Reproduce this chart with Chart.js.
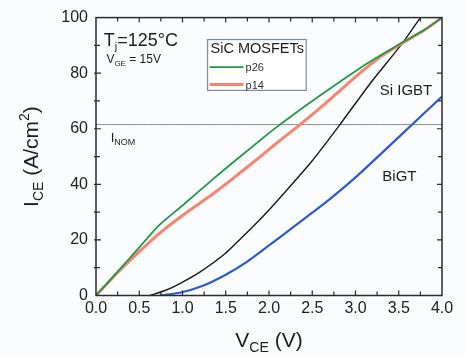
<!DOCTYPE html>
<html><head><meta charset="utf-8">
<style>html,body{margin:0;padding:0;background:#fbfcfe;}#wrap{width:466px;height:355px;}</style>
<script src="https://cdn.jsdelivr.net/npm/chart.js@4.4.1/dist/chart.umd.min.js"></script>
</head><body><div id="wrap"><canvas id="c" width="466" height="355"></canvas></div>
<script>
// ---- data ----
const V_P26 = [0, 0.25, 0.5, 0.73, 1.0, 1.35, 1.6, 1.9, 2.08, 2.5, 3.05, 3.3, 3.55, 3.8, 4.0];
const I_P26 = [0, 8.6, 17.3, 25.3, 32.4, 41.8, 48.3, 55.9, 60.4, 70.0, 81.8, 86.6, 91.2, 95.6, 100];
const V_P14 = [0, 0.25, 0.5, 0.73, 1.0, 1.35, 1.6, 1.9, 2.08, 2.36, 2.67, 3.05, 3.3, 3.55, 3.8, 4.0];
const I_P14 = [0, 8.3, 15.8, 22.3, 28.8, 36.5, 42.5, 50.0, 54.6, 61.5, 69.6, 80.0, 86.2, 91.0, 95.6, 100];
const V_IGBT = [0.62, 0.8, 0.97, 1.2, 1.49, 1.74, 2.0, 2.25, 2.5, 2.82, 3.17, 3.55, 3.75];
const I_IGBT = [0, 1.8, 4.3, 8.4, 15, 22.5, 30.8, 39.5, 48.5, 61.5, 76.3, 91.1, 100];
const V_BIGT = [0.74, 0.97, 1.22, 1.5, 1.74, 2.0, 2.25, 2.5, 2.7, 3.0, 3.5, 4.0];
const I_BIGT = [0, 1.0, 3.3, 7.5, 12.0, 18.0, 23.9, 29.8, 34.6, 42.5, 57, 71.6];
const I_NOM = 61.5;
const X_RANGE = [0, 4];
const Y_RANGE = [0, 100];
const X_STEP = 0.5, X_MINOR = 0.25;
const Y_STEP = 20, Y_MINOR = 10;

const FAM = '"Liberation Sans", Arial, Helvetica, sans-serif';
const pts = (xs, ys) => xs.map((x, i) => ({x, y: ys[i]}));

function rich(ctx, parts, x, y, align, rot) {
  ctx.save();
  ctx.translate(x, y);
  if (rot) ctx.rotate(rot);
  let w = 0;
  parts.forEach(p => { ctx.font = p[1] + 'px ' + FAM; w += ctx.measureText(p[0]).width; });
  let cx = align === 'center' ? -w / 2 : 0;
  ctx.textBaseline = 'alphabetic';
  ctx.textAlign = 'left';
  parts.forEach(p => {
    ctx.font = p[1] + 'px ' + FAM;
    ctx.fillText(p[0], cx, p[2] || 0);
    cx += ctx.measureText(p[0]).width;
  });
  ctx.restore();
}

const deco = {
  id: 'deco',
  beforeDraw(chart) {
    const c = chart.ctx;
    c.save(); c.fillStyle = '#fbfcfe'; c.fillRect(0, 0, chart.width, chart.height); c.restore();
  },
  afterDatasetsDraw(chart) {
    const c = chart.ctx, a = chart.chartArea, xs = chart.scales.x, ys = chart.scales.y;
    c.save();
    c.strokeStyle = '#2b2b2b';
    c.lineWidth = 1.5;
    c.strokeRect(a.left, a.top, a.right - a.left, a.bottom - a.top);
    c.lineWidth = 1.2;
    c.beginPath();
    for (let v = X_RANGE[0] + X_MINOR; v < X_RANGE[1] - 1e-6; v += X_MINOR) {
      const px = xs.getPixelForValue(v);
      const L = Math.abs(v / X_STEP - Math.round(v / X_STEP)) < 1e-6 ? 5 : 4;
      c.moveTo(px, a.bottom); c.lineTo(px, a.bottom - L);
      c.moveTo(px, a.top); c.lineTo(px, a.top + L);
    }
    for (let v = Y_RANGE[0] + Y_MINOR; v < Y_RANGE[1] - 1e-6; v += Y_MINOR) {
      const py = ys.getPixelForValue(v);
      const L = (v % Y_STEP) === 0 ? 5 : 4;
      c.moveTo(a.left - 2, py); c.lineTo(a.left + L, py);
      c.moveTo(a.right, py); c.lineTo(a.right - L, py);
    }
    c.stroke();

    c.fillStyle = '#1e1e1e';
    const P = (x, y) => [xs.getPixelForValue(x), ys.getPixelForValue(y)];
    let p;
    p = P(0.09, 89.7);
    rich(c, [['T', 18], ['j', 11, 4], ['=125°C', 18]], p[0], p[1], 'left');
    p = P(0.12, 83.8);
    rich(c, [['V', 12], ['GE', 8, 3], [' = 15V', 12]], p[0], p[1], 'left');
    p = P(0.17, 55.4);
    rich(c, [['I', 13], ['NOM', 9, 3]], p[0], p[1], 'left');
    p = P(3.28, 72.1);
    rich(c, [['Si IGBT', 15]], p[0], p[1], 'left');
    p = P(3.31, 41.1);
    rich(c, [['BiGT', 15]], p[0], p[1], 'left');

    // legend box
    const b0 = P(1.29, 92.1), b1 = P(2.43, 73.8);
    c.fillStyle = '#ffffff';
    c.fillRect(b0[0], b0[1], b1[0] - b0[0], b1[1] - b0[1]);
    c.strokeStyle = '#7d8c9c'; c.lineWidth = 1.2;
    c.strokeRect(b0[0], b0[1], b1[0] - b0[0], b1[1] - b0[1]);
    c.fillStyle = '#1e1e1e';
    rich(c, [['SiC MOSFETs', 14.5]], b0[0] + 3, b0[1] + 13.5, 'left');
    const ds = chart.data.datasets;
    [[ds[0], b0[1] + 27.5], [ds[1], b0[1] + 45]].forEach(([d, yy]) => {
      c.strokeStyle = d.borderColor; c.lineWidth = d.borderWidth;
      c.beginPath(); c.moveTo(b0[0] + 2, yy); c.lineTo(b0[0] + 36, yy); c.stroke();
      c.fillStyle = '#333';
      rich(c, [[d.label, 11]], b0[0] + 38, yy + 4, 'left');
    });

    // axis titles
    c.fillStyle = '#1e1e1e';
    rich(c, [['V', 21], ['CE', 14, 5], [' (V)', 21]], (a.left + a.right) / 2, 347, 'center');
    rich(c, [['I', 21], ['CE', 14, 5], [' (A/cm', 21], ['2', 14, -9], [')', 21]], 38, (a.top + a.bottom) / 2, 'center', -Math.PI / 2);
    c.restore();
  }
};

const line = (label, data, color, w) => ({
  label, data, borderColor: color, borderWidth: w, pointRadius: 0,
  fill: false, tension: 0.2
});

new Chart(document.getElementById('c'), {
  type: 'line',
  data: {
    datasets: [
      line('p26', pts(V_P26, I_P26), '#1f9a47', 1.8),
      line('p14', pts(V_P14, I_P14), '#f7846e', 3),
      line('Si IGBT', pts(V_IGBT, I_IGBT), '#1a1a1a', 1.4),
      line('BiGT', pts(V_BIGT, I_BIGT), '#2a5bd0', 2.2),
      line('INOM', [{x: X_RANGE[0], y: I_NOM}, {x: X_RANGE[1], y: I_NOM}], '#8c8c8c', 1)
    ]
  },
  options: {
    responsive: false, animation: false, devicePixelRatio: 1,
    layout: {padding: {top: 15, right: 24, left: 0, bottom: 0}},
    plugins: {legend: {display: false}, tooltip: {enabled: false}},
    scales: {
      x: {
        type: 'linear', min: X_RANGE[0], max: X_RANGE[1],
        afterFit(s) { s.height = 59.5; },
        grid: {display: false, drawTicks: false}, border: {display: false},
        ticks: {stepSize: X_STEP, padding: 3, color: '#222', font: {size: 16, family: FAM},
          callback: v => Number(v).toFixed(1), maxRotation: 0}
      },
      y: {
        min: Y_RANGE[0], max: Y_RANGE[1],
        afterFit(s) { s.width = 96; },
        grid: {display: false, drawTicks: false}, border: {display: false},
        ticks: {stepSize: Y_STEP, padding: 8, color: '#222', font: {size: 16, family: FAM}}
      }
    }
  },
  plugins: [deco]
});
</script></body></html>
